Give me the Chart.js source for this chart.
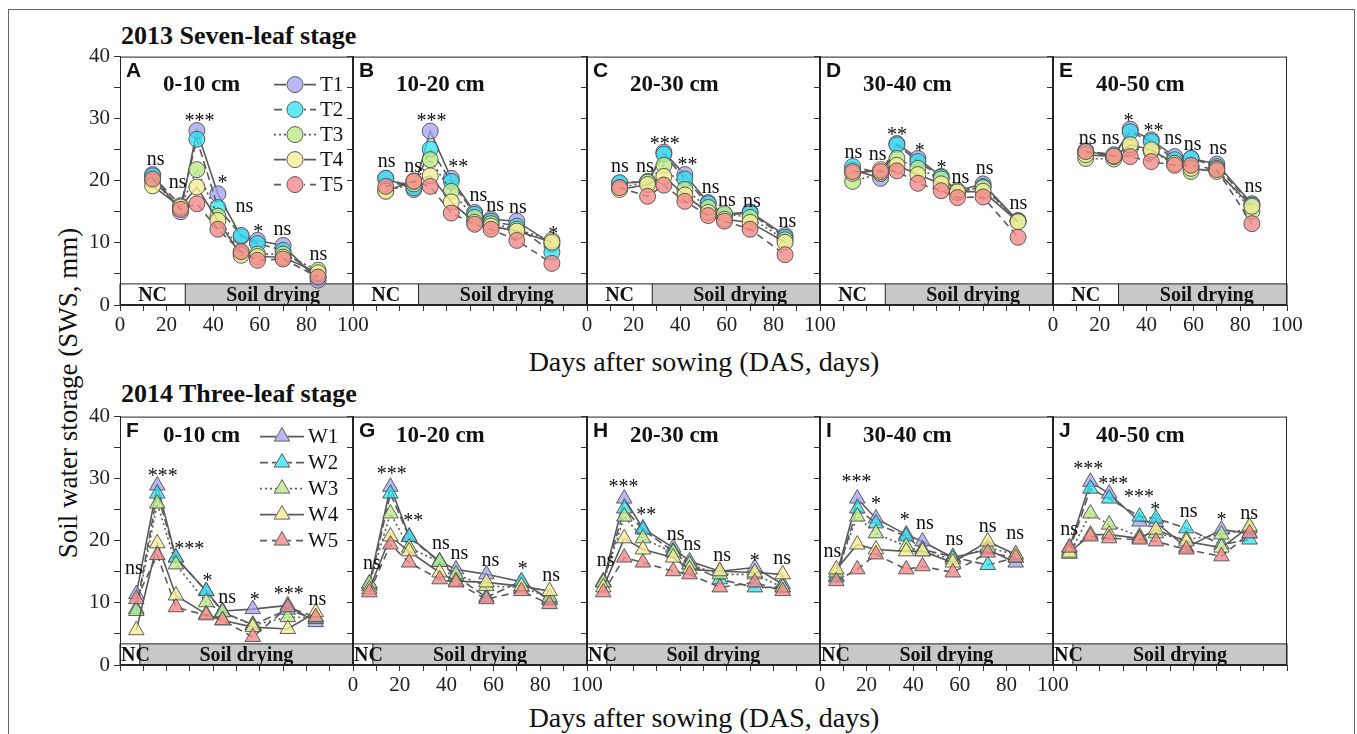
<!DOCTYPE html>
<html>
<head>
<meta charset="utf-8">
<title>Soil water storage</title>
<script src="https://cdn.jsdelivr.net/npm/chart.js@4.4.1/dist/chart.umd.min.js"></script>
<style>
  body { margin: 0; background: #fff; }
  #fig { position: relative; width: 1357px; height: 734px; overflow: hidden; font-family: "Liberation Serif", "Times New Roman", serif; color: #111; }
  #fig canvas { position: absolute; }
  #frame { position: absolute; left: 8px; top: 9px; width: 1347px; height: 760px; border: 1.5px solid #666; box-sizing: border-box; }
  .lbl { position: absolute; white-space: nowrap; line-height: 1; }
  .stage { font-weight: bold; font-size: 26px; left: 121px; }
  .xt { font-size: 28px; left: 704px; transform: translateX(-50%); }
  .yt { font-size: 27px; left: 68px; top: 393px; transform: translate(-50%, -50%) rotate(-90deg); }
</style>
</head>
<body>
<div id="fig">
  <div id="frame"></div>
  <div class="lbl stage" style="top:23px">2013 Seven-leaf stage</div>
  <div class="lbl stage" style="top:381px">2014 Three-leaf stage</div>
  <div class="lbl xt" style="top:348px">Days after sowing (DAS, days)</div>
  <div class="lbl xt" style="top:704px">Days after sowing (DAS, days)</div>
  <div class="lbl yt">Soil water storage (SWS, mm)</div>
</div>
<script>
// sampling days
const dasTop = [14, 26, 33, 42, 52, 59, 70, 85];
const dasBottom = [7, 16, 24, 37, 44, 57, 72, 84];

const namesTop = ["T1", "T2", "T3", "T4", "T5"];
const namesBottom = ["W1", "W2", "W3", "W4", "W5"];
const depths = ["0-10 cm", "10-20 cm", "20-30 cm", "30-40 cm", "40-50 cm"];
const lettersTop = ["A", "B", "C", "D", "E"];
const lettersBottom = ["F", "G", "H", "I", "J"];

// NC period ends (DAS), soil drying afterwards
const ncEndTop = 28;
const ncEndBottom = 8.5;

// 2013 seven-leaf stage, rows T1..T5
const swsA = [
  [21.0, 15.0, 28.1, 17.9, 11.0, 10.4, 9.6, 4.0],
  [20.8, 16.0, 26.7, 15.7, 11.2, 9.9, 8.8, 4.6],
  [20.0, 15.7, 21.8, 14.3, 8.3, 8.2, 8.2, 5.6],
  [19.2, 15.8, 19.0, 13.6, 8.0, 7.8, 7.7, 5.2],
  [20.3, 15.4, 16.3, 12.2, 8.6, 7.2, 7.4, 4.5]
];
const swsB = [
  [20.4, 18.6, 28.0, 20.4, 14.9, 13.8, 13.5, 9.8],
  [20.4, 18.9, 25.1, 19.9, 14.6, 13.5, 12.7, 8.5],
  [18.4, 19.5, 23.4, 18.3, 14.1, 13.1, 12.2, 10.4],
  [18.3, 20.0, 20.8, 16.6, 13.3, 12.7, 11.9, 10.1],
  [19.1, 19.9, 19.1, 14.8, 13.0, 12.2, 10.4, 6.7]
];
const swsC = [
  [19.6, 19.9, 24.6, 21.0, 16.5, 14.6, 15.0, 11.2],
  [19.7, 19.8, 24.3, 20.3, 16.3, 14.5, 14.8, 10.9],
  [18.9, 19.8, 22.5, 18.6, 15.7, 14.7, 14.1, 10.5],
  [18.6, 19.4, 20.7, 17.7, 14.9, 13.8, 13.3, 10.1],
  [18.9, 17.5, 19.3, 16.7, 14.4, 13.5, 12.2, 8.1]
];
const swsD = [
  [21.8, 20.4, 26.0, 23.6, 20.7, 18.4, 19.5, 13.5],
  [22.3, 21.2, 25.8, 23.1, 20.6, 18.1, 19.1, 13.6],
  [19.9, 21.2, 23.6, 22.0, 20.3, 18.4, 18.9, 13.5],
  [21.2, 21.8, 22.5, 21.0, 19.5, 18.2, 18.3, 13.4],
  [21.5, 21.5, 21.6, 19.6, 18.4, 17.3, 17.4, 10.9]
];
const swsE = [
  [24.8, 23.9, 28.3, 26.6, 23.9, 23.6, 22.7, 16.3],
  [24.8, 24.2, 27.9, 26.3, 23.4, 23.6, 22.3, 16.1],
  [23.6, 23.5, 25.3, 24.7, 22.8, 21.5, 22.0, 15.1],
  [24.2, 23.9, 25.8, 25.0, 22.8, 22.0, 21.5, 15.9],
  [24.7, 24.0, 23.9, 23.1, 22.5, 22.5, 21.8, 13.1]
];

// 2014 three-leaf stage, rows W1..W5
const swsF = [
  [11.4, 28.9, 17.3, 11.9, 8.7, 9.0, 9.6, 6.9],
  [9.0, 27.6, 17.3, 11.9, 8.5, 6.5, 8.9, 7.4],
  [8.7, 26.0, 16.2, 10.1, 8.5, 6.4, 7.7, 7.7],
  [5.6, 19.6, 11.2, 8.2, 7.2, 6.1, 5.8, 8.5],
  [10.6, 17.7, 9.3, 8.0, 7.2, 4.5, 9.3, 7.7]
];
const swsG = [
  [13.1, 28.7, 20.7, 16.7, 15.4, 14.6, 13.4, 10.6],
  [12.7, 27.6, 20.6, 16.6, 14.3, 10.9, 13.5, 10.4],
  [13.1, 24.4, 18.9, 16.6, 14.6, 12.7, 12.5, 10.9],
  [12.2, 20.7, 18.3, 14.9, 13.5, 13.3, 12.7, 11.9],
  [11.7, 19.4, 16.5, 13.8, 13.3, 10.6, 11.9, 9.8]
];
const swsH = [
  [13.5, 26.8, 22.0, 18.9, 16.7, 15.1, 15.7, 13.0],
  [13.3, 25.2, 21.8, 18.3, 16.2, 13.8, 12.5, 12.5],
  [13.3, 23.9, 20.4, 18.1, 16.2, 14.6, 14.6, 12.5],
  [12.5, 20.4, 18.6, 17.3, 15.4, 15.1, 14.9, 14.6],
  [11.7, 17.3, 16.5, 15.1, 14.6, 12.5, 13.3, 11.9]
];
const swsI = [
  [14.3, 26.8, 23.6, 21.0, 19.9, 17.3, 18.6, 16.5],
  [14.1, 25.2, 22.8, 20.7, 18.6, 17.4, 16.1, 17.3],
  [14.9, 23.9, 21.2, 19.1, 18.3, 17.0, 18.9, 17.8],
  [15.4, 19.4, 18.6, 18.3, 18.3, 16.5, 19.9, 17.8],
  [13.5, 15.4, 17.8, 15.4, 15.9, 14.9, 18.1, 17.3]
];
const swsJ = [
  [18.9, 29.5, 27.6, 23.1, 23.0, 18.9, 21.8, 21.2],
  [18.4, 28.4, 26.8, 23.9, 23.6, 22.0, 19.4, 20.2],
  [17.9, 24.4, 22.6, 20.7, 21.2, 20.2, 21.0, 22.0],
  [18.1, 21.0, 21.0, 20.4, 21.8, 19.9, 18.9, 22.3],
  [18.9, 20.7, 20.4, 20.2, 19.9, 18.6, 17.5, 21.2]
];

// significance labels and where they sit (DAS, mm)
const sigA = ["ns", "ns", "***", "*", "ns", "*", "ns", "ns"];
const sigAx = [15.3, 24.7, 34.1, 44, 53.4, 59.3, 69.7, 85.1];
const sigAy = [23.4, 19.6, 30.5, 20.4, 15.8, 12.6, 12.1, 8.0];
const sigB = ["ns", "ns", "***", "**", "ns", "ns", "ns", "*"];
const sigBx = [14.4, 25.7, 33.5, 45, 53.6, 60.7, 70.5, 85.6];
const sigBy = [23.1, 22.3, 30.5, 23.1, 17.5, 15.9, 15.7, 12.2];
const sigC = ["ns", "ns", "***", "**", "ns", "ns", "ns", "ns"];
const sigCx = [14.1, 24.8, 33.4, 43.1, 53.1, 60, 70.8, 86];
const sigCy = [22.3, 22.3, 26.8, 23.4, 18.9, 16.8, 16.6, 13.3];
const sigD = ["ns", "ns", "**", "*", "*", "ns", "ns", "ns"];
const sigDx = [14.3, 24.7, 33, 42.8, 52.1, 60.3, 70.7, 85.1];
const sigDy = [24.4, 24.2, 28.1, 25.6, 22.8, 20.4, 21.9, 16.2];
const sigE = ["ns", "ns", "*", "**", "ns", "ns", "ns", "ns"];
const sigEx = [14.8, 24.6, 32.3, 43, 51.3, 59.7, 70.6, 85.6];
const sigEy = [26.8, 26.7, 30.4, 28.9, 26.8, 25.8, 25.1, 19.0];
const sigF = ["ns", "***", "***", "*", "ns", "*", "***", "ns"];
const sigFx = [6, 18.3, 29.7, 37.6, 46, 57.8, 72.4, 84.7];
const sigFy = [15.4, 31.3, 19.5, 14.3, 10.8, 11.3, 12.2, 10.5];
const sigG = ["ns", "***", "**", "ns", "ns", "ns", "*", "ns"];
const sigGx = [8.1, 16.6, 25.8, 37.6, 45.5, 58.7, 72.5, 84.7];
const sigGy = [16.2, 31.6, 24.0, 19.5, 17.8, 16.8, 16.2, 14.3];
const sigH = ["ns", "***", "**", "ns", "ns", "ns", "*", "ns"];
const sigHx = [8, 15.7, 25.4, 38, 45.1, 58, 72, 83.7];
const sigHy = [16.7, 29.5, 25.0, 21.0, 19.3, 17.5, 17.5, 17.0];
const sigI = ["ns", "***", "*", "*", "ns", "ns", "ns", "ns"];
const sigIx = [5.3, 15.7, 24, 36.4, 45, 57.7, 72, 83.7];
const sigIy = [18.2, 30.3, 26.7, 24.2, 22.7, 20.2, 22.3, 21.1];
const sigJ = ["ns", "***", "***", "***", "*", "ns", "*", "ns"];
const sigJx = [6.9, 15.1, 25.8, 36.7, 43.7, 58, 72, 83.8];
const sigJy = [21.8, 32.4, 29.9, 27.8, 25.8, 24.7, 24.2, 24.3];

const SERIF = '"Liberation Serif", "Times New Roman", serif';
const SANS = '"Liberation Sans", Arial, sans-serif';
const fills = ["rgba(160,160,238,0.75)", "rgba(45,225,242,0.75)", "rgba(188,232,138,0.8)", "rgba(246,238,150,0.8)", "rgba(242,138,138,0.8)"];
const dashes = [[], [8, 4], [2, 3], [], [7, 5]];
const bandTop = 3.4;

const fig = document.getElementById("fig");
const lefts = [120, 353, 587, 820, 1053, 1287];

function drawMarker(ctx, style, r, x, y) {
    ctx.beginPath();
    if (style === "circle") {
        ctx.arc(x, y, r, 0, Math.PI * 2);
    } else {
        ctx.moveTo(x, y - r);
        ctx.lineTo(x + r * Math.sin(2 * Math.PI / 3), y + r / 2);
        ctx.lineTo(x - r * Math.sin(2 * Math.PI / 3), y + r / 2);
        ctx.closePath();
    }
    ctx.fill();
    ctx.stroke();
}

function decoPlugin(p) {
    return {
        id: "deco",
        beforeDatasetsDraw(chart) {
            const ctx = chart.ctx, a = chart.chartArea;
            const xs = chart.scales.x, ys = chart.scales.y;
            const yt = ys.getPixelForValue(bandTop);
            const xn = xs.getPixelForValue(p.ncEnd);
            ctx.save();
            ctx.fillStyle = "#fff";
            ctx.fillRect(a.left, yt, xn - a.left, a.bottom - yt);
            ctx.fillStyle = "#c8c8c8";
            ctx.fillRect(xn, yt, a.right - xn, a.bottom - yt);
            ctx.strokeStyle = "#222";
            ctx.lineWidth = 1;
            ctx.strokeRect(a.left, yt, a.right - a.left, a.bottom - yt);
            ctx.beginPath();
            ctx.moveTo(xn, yt);
            ctx.lineTo(xn, a.bottom);
            ctx.stroke();
            ctx.fillStyle = "#111";
            ctx.font = "bold 20px " + SERIF;
            ctx.textBaseline = "middle";
            const ym = (yt + a.bottom) / 2 + 1;
            if (p.ncEnd > 15) {
                ctx.textAlign = "center";
                ctx.fillText("NC", (a.left + xn) / 2, ym);
            } else {
                ctx.textAlign = "left";
                ctx.fillText("NC", a.left + 1, ym);
            }
            ctx.textAlign = "center";
            ctx.fillText("Soil drying", (xn + a.right) / 2 + (p.ncEnd > 15 ? 4 : 0), ym);
            ctx.restore();
        },
        afterDatasetsDraw(chart) {
            const ctx = chart.ctx, a = chart.chartArea;
            const xs = chart.scales.x, ys = chart.scales.y;
            ctx.save();
            // panel frame
            ctx.strokeStyle = "#222";
            ctx.lineWidth = 1;
            ctx.strokeRect(a.left + 0.5, a.top + 0.5, a.right - a.left - 1, a.bottom - a.top - 1);
            // significance
            ctx.fillStyle = "#111";
            ctx.font = "20px " + SERIF;
            ctx.textAlign = "center";
            ctx.textBaseline = "alphabetic";
            p.sig.forEach((t, i) => {
                const px = xs.getPixelForValue(p.sigX[i]);
                const py = ys.getPixelForValue(p.sigY[i]);
                ctx.fillText(t, px, py + (t === "ns" ? 5 : 11));
            });
            // panel letter and depth
            ctx.textAlign = "left";
            ctx.textBaseline = "top";
            ctx.font = "bold 21px " + SANS;
            ctx.fillText(p.letter, a.left + 6, a.top + 4);
            ctx.textBaseline = "middle";
            ctx.font = "bold 23px " + SERIF;
            ctx.fillText(p.depth, a.left + 43, a.top + p.depthY);
            // legend
            if (p.legend) {
                const g = p.legend;
                p.names.forEach((n, i) => {
                    const y = a.top + g.y0 + g.dy * i;
                    const cx = a.left + g.cx;
                    ctx.strokeStyle = "#5a5a5a";
                    ctx.lineWidth = 1.6;
                    ctx.setLineDash(dashes[i]);
                    ctx.beginPath();
                    ctx.moveTo(cx - g.half, y);
                    ctx.lineTo(cx + g.half, y);
                    ctx.stroke();
                    ctx.setLineDash([]);
                    ctx.fillStyle = "#fff";
                    ctx.strokeStyle = "rgba(255,255,255,0)";
                    drawMarker(ctx, p.marker, p.radius + 1, cx, y);
                    ctx.fillStyle = fills[i];
                    ctx.strokeStyle = "rgba(80,80,80,0.9)";
                    ctx.lineWidth = 1;
                    drawMarker(ctx, p.marker, p.radius, cx, y);
                    ctx.fillStyle = "#111";
                    ctx.font = "21px " + SERIF;
                    ctx.textAlign = "left";
                    ctx.fillText(n, cx + g.half + 4, y + 1);
                });
            }
            ctx.restore();
        }
    };
}

function makePanel(p) {
    const L = 45, R = 20, T = 14, B = 42;
    const w = p.right - p.left + L + R;
    const h = p.bottom - p.top + T + B;
    const cv = document.createElement("canvas");
    cv.width = w;
    cv.height = h;
    cv.style.left = (p.left - L) + "px";
    cv.style.top = (p.top - T) + "px";
    cv.style.width = w + "px";
    cv.style.height = h + "px";
    fig.appendChild(cv);

    const datasets = p.values.map((vals, i) => ({
        label: p.names[i],
        data: vals.map((v, j) => ({ x: p.das[j], y: v })),
        borderColor: "#5a5a5a",
        borderWidth: 1.6,
        borderDash: dashes[i],
        pointStyle: p.marker,
        pointRadius: p.radius,
        pointBackgroundColor: fills[i],
        pointBorderColor: "rgba(80,80,80,0.9)",
        pointBorderWidth: 1,
        tension: 0,
        order: 4 - i
    }));

    new Chart(cv, {
        type: "line",
        data: { datasets: datasets },
        options: {
            responsive: false,
            animation: false,
            devicePixelRatio: 1,
            layout: { padding: { left: 0, right: R, top: T, bottom: 0 } },
            plugins: { legend: { display: false }, tooltip: { enabled: false } },
            scales: {
                x: {
                    type: "linear",
                    min: 0,
                    max: 100,
                    afterFit: s => { s.height = B; },
                    ticks: {
                        stepSize: 10,
                        autoSkip: false,
                        maxRotation: 0,
                        padding: 2,
                        color: "#222",
                        font: { family: SERIF, size: 21 },
                        callback: v => (p.xLabels && v % 20 === 0) ? v : ""
                    },
                    grid: { drawOnChartArea: false, drawTicks: true, tickLength: 6, color: "#333" },
                    border: { color: "#333", width: 1 }
                },
                y: {
                    min: 0,
                    max: 40,
                    afterFit: s => { s.width = L; },
                    ticks: {
                        stepSize: 5,
                        autoSkip: false,
                        padding: 4,
                        color: "#222",
                        font: { family: SERIF, size: 21 },
                        callback: v => (p.yLabels && v % 10 === 0) ? v : ""
                    },
                    grid: { drawOnChartArea: false, drawTicks: true, tickLength: 6, color: "#333" },
                    border: { color: "#333", width: 1 }
                }
            }
        },
        plugins: [decoPlugin(p)]
    });
}

const topValues = [swsA, swsB, swsC, swsD, swsE];
const topSig = [[sigA, sigAx, sigAy], [sigB, sigBx, sigBy], [sigC, sigCx, sigCy], [sigD, sigDx, sigDy], [sigE, sigEx, sigEy]];
const bottomValues = [swsF, swsG, swsH, swsI, swsJ];
const bottomSig = [[sigF, sigFx, sigFy], [sigG, sigGx, sigGy], [sigH, sigHx, sigHy], [sigI, sigIx, sigIy], [sigJ, sigJx, sigJy]];

for (let k = 0; k < 5; k++) {
    makePanel({
        left: lefts[k], right: lefts[k + 1], top: 54, bottom: 305,
        values: topValues[k], das: dasTop, names: namesTop,
        marker: "circle", radius: 8, ncEnd: ncEndTop,
        sig: topSig[k][0], sigX: topSig[k][1], sigY: topSig[k][2],
        letter: lettersTop[k], depth: depths[k], depthY: 28,
        xLabels: k % 2 === 0, yLabels: k === 0,
        legend: k === 0 ? { cx: 175, y0: 28, dy: 25, half: 21 } : null
    });
    makePanel({
        left: lefts[k], right: lefts[k + 1], top: 414, bottom: 665,
        values: bottomValues[k], das: dasBottom, names: namesBottom,
        marker: "triangle", radius: 9, ncEnd: ncEndBottom,
        sig: bottomSig[k][0], sigX: bottomSig[k][1], sigY: bottomSig[k][2],
        letter: lettersBottom[k], depth: depths[k], depthY: 19,
        xLabels: k === 1 || k === 3, yLabels: k === 0,
        legend: k === 0 ? { cx: 162, y0: 20, dy: 26, half: 22 } : null
    });
}
</script>
</body>
</html>
